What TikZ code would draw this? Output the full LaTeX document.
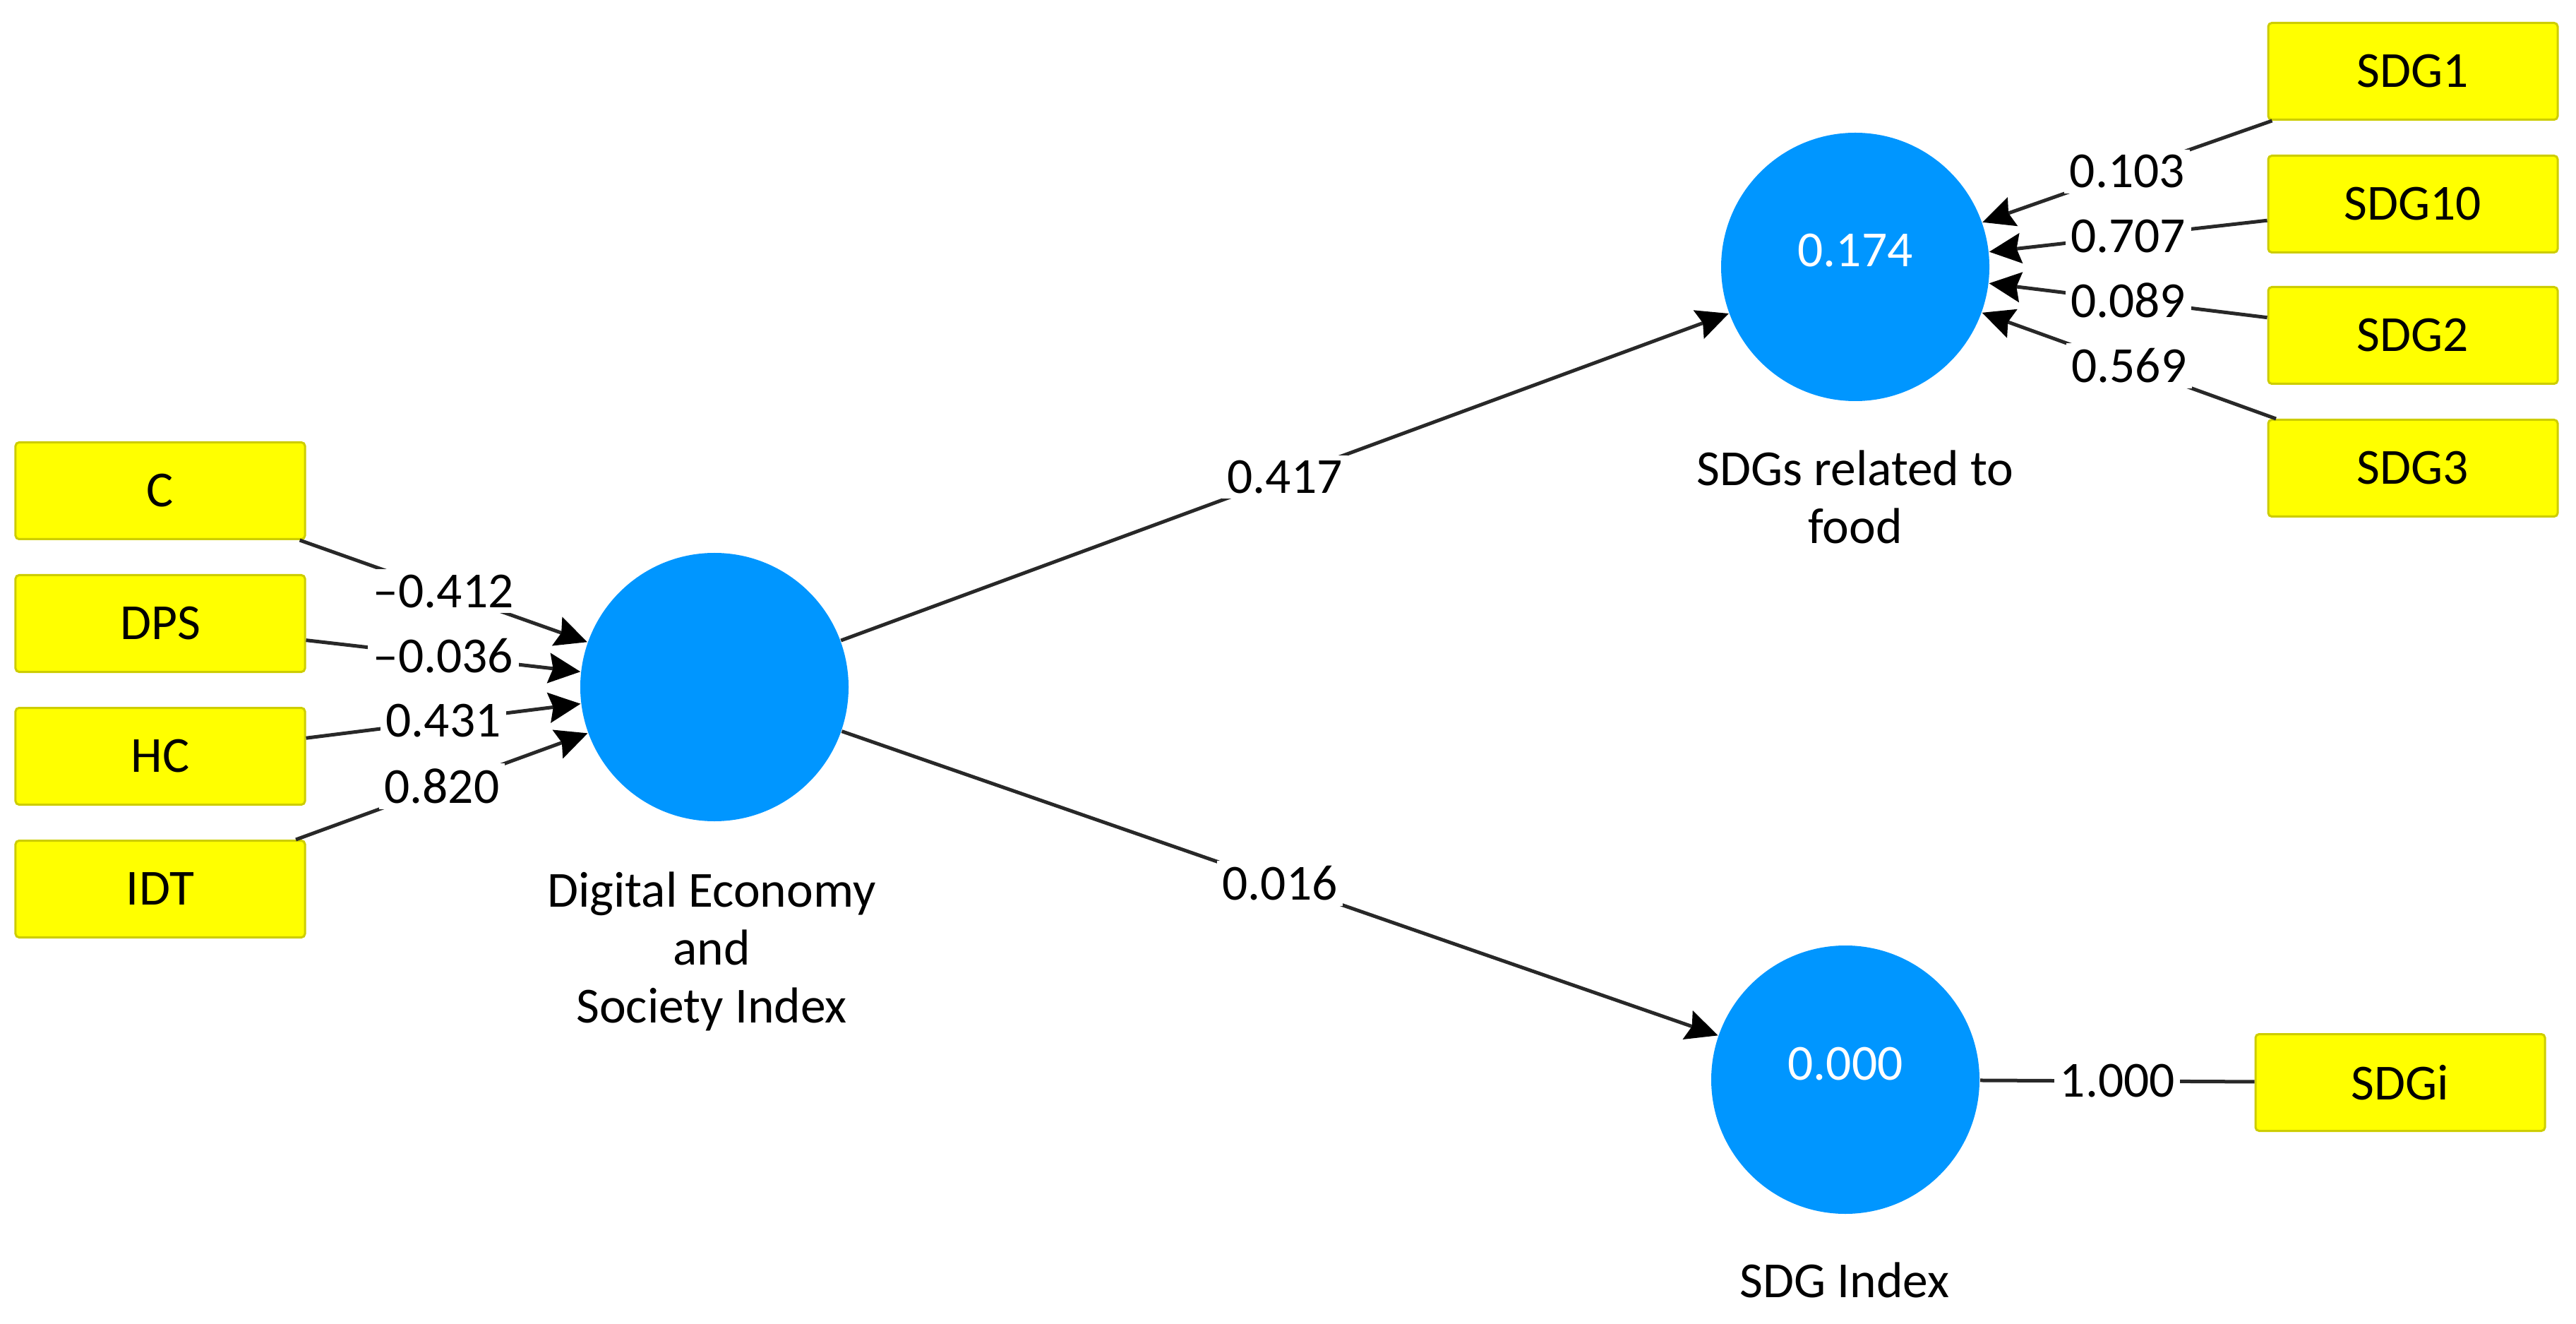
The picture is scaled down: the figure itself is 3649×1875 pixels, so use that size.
\documentclass[tikz,border=0pt]{standalone}
\usepackage{fontspec}
\setmainfont{Carlito}
\usetikzlibrary{arrows.meta}
\definecolor{lvblue}{RGB}{0,150,255}
\definecolor{mvyellow}{RGB}{255,255,0}
\definecolor{mvborder}{RGB}{205,205,0}
\definecolor{linecol}{RGB}{40,40,40}
\begin{document}
\begin{tikzpicture}[x=0.2pt,y=-0.2pt,
  font=\fontsize{14.3pt}{16.4pt}\selectfont,
  mv/.style={draw=mvborder, line width=0.6pt, fill=mvyellow, rounded corners=1pt,
    minimum width=82pt, minimum height=27.4pt, inner sep=0pt},
  lv/.style={circle, fill=lvblue, minimum size=76pt, inner sep=0pt},
  conn/.style={draw=linecol, line width=1pt,
    -{Stealth[length=9pt,width=8.5pt,inset=1.2pt,color=black]}},
  plainconn/.style={draw=linecol, line width=1pt},
  wt/.style={fill=white, inner sep=1.5pt, text=black},
  r2/.style={anchor=base, text=white, inner sep=0pt}
]
\useasboundingbox (0,0) rectangle (3649,1875);
% indicator boxes
\node[mv] (c)    at (227,695) {C};
\node[mv] (dps)  at (227,883) {DPS};
\node[mv] (hc)   at (227,1071) {HC};
\node[mv] (idt)  at (227,1259) {IDT};
\node[mv] (sdg1)  at (3418,101) {SDG1};
\node[mv] (sdg10) at (3418,289) {SDG10};
\node[mv] (sdg2)  at (3418,475) {SDG2};
\node[mv] (sdg3)  at (3418,663) {SDG3};
\node[mv] (sdgi)  at (3400,1533) {SDGi};
% constructs
\node[lv] (desi)   at (1012,973) {};
\node[lv] (food)   at (2628,378) {};
\node[lv] (sdgidx) at (2614,1529) {};
\node[r2] (foodr2) at (2628,378) {0.174};
\node[r2] (idxr2)  at (2614,1529) {0.000};
% construct labels (base = baseline of last line)
\node[align=center, anchor=base] (desilab) at (1008,1448) {Digital Economy\\and\\Society Index};
\node[align=center, anchor=base] (foodlab) at (2628,770) {SDGs related to\\food};
\node[anchor=base] (idxlab) at (2613,1837) {SDG Index};
% outer weights
\draw[conn] (c)   -- node[wt] {–0.412} (desi);
\draw[conn] (dps) -- node[wt] {–0.036} (desi);
\draw[conn] (hc)  -- node[wt] {0.431} (desi);
\draw[conn] (idt) -- node[wt] {0.820} (desi);
\draw[conn] (sdg1)  -- node[wt] {0.103} (food);
\draw[conn] (sdg10) -- node[wt] {0.707} (food);
\draw[conn] (sdg2)  -- node[wt] {0.089} (food);
\draw[conn] (sdg3)  -- node[wt] {0.569} (food);
\draw[plainconn] (sdgidx) -- node[wt] {1.000} (sdgi);
% path coefficients
\draw[conn] (desi) -- node[wt] {0.417} (food);
\draw[conn] (desi) -- node[wt] {0.016} (sdgidx);
\end{tikzpicture}
\end{document}
